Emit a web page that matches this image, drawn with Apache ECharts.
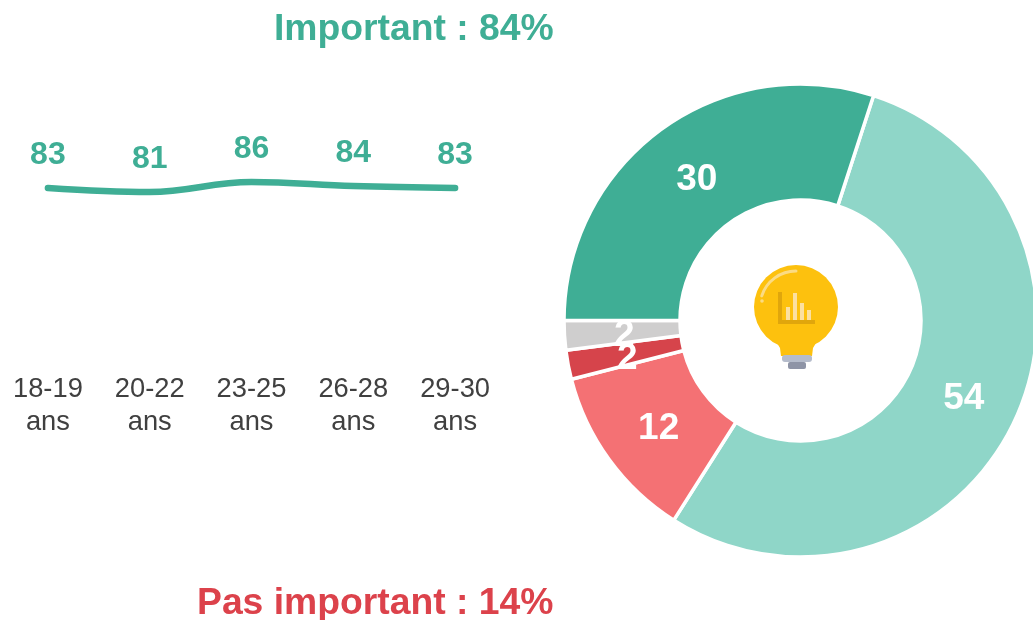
<!DOCTYPE html>
<html><head><meta charset="utf-8">
<style>html,body{margin:0;padding:0;background:#fff}#c{width:1033px;height:620px}</style>
<script src="https://cdn.jsdelivr.net/npm/echarts@6/dist/echarts.min.js"></script>
</head><body><div id="c"></div>
<script>
const ageCategories = ['18-19\nans','20-22\nans','23-25\nans','26-28\nans','29-30\nans'];
const ageValues = [83,81,86,84,83];
const sliceNames = ['Assez important','Peu important','Pas du tout important','Ne se prononce pas','Très important'];
const sliceValues = [54,12,2,2,30];
const sliceColors = ['#8FD6C8','#F47174','#D6444B','#CFCECE','#3FAE95'];
const sliceLabelNudges = [[-1,1],[5,2],[5,4],[5,4],[3,6]];
const font = '"Liberation Sans", Arial, sans-serif';
const chart = echarts.init(document.getElementById('c'), null, {renderer:'canvas'});
chart.setOption({
  animation:false,
  title:[
    {text:'Important : 84%',left:269,top:6,textStyle:{color:'#3FAE95',fontFamily:font,fontWeight:'bold',fontSize:37.3}},
    {text:'Pas important : 14%',left:192,top:580,textStyle:{color:'#DC424B',fontFamily:font,fontWeight:'bold',fontSize:37.3}}
  ],
  grid:{left:-3,width:509,top:154,height:200,outerBoundsMode:'none'},
  xAxis:{type:'category',data:ageCategories,axisLine:{show:false},axisTick:{show:false},
    axisLabel:{color:'#404040',fontFamily:font,fontSize:27.3,lineHeight:33,margin:19,interval:0}},
  yAxis:{type:'value',min:0,max:100,show:false},
  series:[
    {type:'line',data:ageValues,smooth:0.4,symbol:'circle',symbolSize:1,showSymbol:true,
     itemStyle:{color:'#3FAE95'},lineStyle:{color:'#3FAE95',width:6.5,cap:'round'},
     label:{show:true,position:'top',distance:16,color:'#3FAE95',fontFamily:font,fontWeight:'bold',fontSize:32}},
    {type:'pie',center:[800.5,320.5],radius:[120.5,236.5],startAngle:72,clockwise:true,
     data:sliceValues.map((v,i)=>({value:v,name:sliceNames[i],itemStyle:{color:sliceColors[i]},label:{offset:sliceLabelNudges[i]}})),
     itemStyle:{borderColor:'#fff',borderWidth:3.5},
     label:{show:true,position:'inside',formatter:'{c}',color:'#fff',fontFamily:font,fontWeight:'bold',fontSize:37},
     labelLine:{show:false},labelLayout:{hideOverlap:false},minShowLabelAngle:0,avoidLabelOverlap:false}
  ],
  graphic:[
    {type:'group',silent:true,children:[
      {type:'circle',shape:{cx:796,cy:307,r:42},style:{fill:'#FDC10E'}},
      {type:'polygon',shape:{points:[[768,336],[824,336],[816,343],[813,348],[812,356],[781,356],[780,348],[777,343]]},style:{fill:'#FDC10E'}},
      {type:'arc',shape:{cx:796,cy:307,r:36,startAngle:Math.PI*1.1,endAngle:Math.PI*1.5},style:{stroke:'#FBDB83',lineWidth:3,fill:null,lineCap:'round'}},
      {type:'circle',shape:{cx:762,cy:301,r:1.8},style:{fill:'#FBDB83'}},
      {type:'rect',shape:{x:782,y:355,width:30,height:7,r:3},style:{fill:'#B5BCCB'}},
      {type:'rect',shape:{x:788,y:362,width:18,height:7,r:2},style:{fill:'#8E94A6'}},
      {type:'rect',shape:{x:778,y:292,width:4,height:32},style:{fill:'#E0A60C'}},
      {type:'rect',shape:{x:778,y:320,width:37,height:4},style:{fill:'#E0A60C'}},
      {type:'rect',shape:{x:786,y:307,width:4,height:13},style:{fill:'#FCE0A0'}},
      {type:'rect',shape:{x:793,y:293,width:4,height:27},style:{fill:'#FCE0A0'}},
      {type:'rect',shape:{x:800,y:303,width:4,height:17},style:{fill:'#FCE0A0'}},
      {type:'rect',shape:{x:807,y:310,width:4,height:10},style:{fill:'#FCE0A0'}}
    ]}
  ]
});
</script></body></html>
